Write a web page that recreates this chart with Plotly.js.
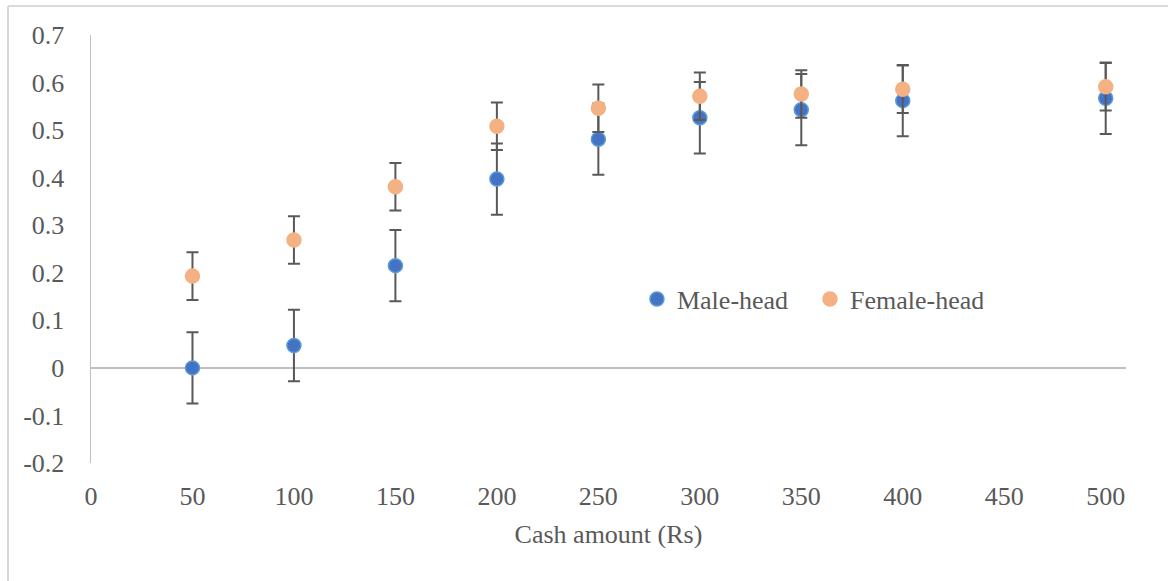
<!DOCTYPE html>
<html>
<head>
<meta charset="utf-8">
<script src="https://cdn.plot.ly/plotly-3.0.1.min.js"></script>
<style>html,body{margin:0;padding:0;background:#fff;}#chart{width:1168px;height:581px;}</style>
</head>
<body>
<div id="chart"></div>
<script>
var cashAmounts = [50, 100, 150, 200, 250, 300, 350, 400, 500];
var maleHead = [0.0, 0.047, 0.215, 0.397, 0.481, 0.526, 0.543, 0.562, 0.567];
var maleErr = [0.075, 0.075, 0.075, 0.075, 0.075, 0.075, 0.075, 0.075, 0.075];
var femaleHead = [0.193, 0.269, 0.381, 0.508, 0.546, 0.571, 0.576, 0.586, 0.591];
var femaleErr = [0.05, 0.05, 0.05, 0.05, 0.05, 0.05, 0.05, 0.05, 0.05];
var xTicks = [0, 50, 100, 150, 200, 250, 300, 350, 400, 450, 500];
var yTicks = [-0.2, -0.1, 0, 0.1, 0.2, 0.3, 0.4, 0.5, 0.6, 0.7];
var yTickText = ['-0.2', '-0.1', '0', '0.1', '0.2', '0.3', '0.4', '0.5', '0.6', '0.7'];

var fontFam = 'Liberation Serif';
var fs = 26;
var errStyle = {type: 'data', visible: true, color: '#595959', thickness: 2, width: 6};

var traces = [
  {
    x: cashAmounts, y: maleHead, name: 'Male-head', type: 'scatter', mode: 'markers',
    marker: {color: '#4472C4', size: 14, line: {color: '#5B9BD5', width: 1.5}},
    error_y: Object.assign({array: maleErr}, errStyle)
  },
  {
    x: cashAmounts, y: femaleHead, name: 'Female-head', type: 'scatter', mode: 'markers',
    marker: {color: '#F4B183', size: 14, line: {color: '#F4B183', width: 1.5}},
    error_y: Object.assign({array: femaleErr}, errStyle)
  }
];

var layout = {
  width: 1168, height: 581,
  margin: {l: 91, r: 42, t: 35, b: 118},
  paper_bgcolor: '#ffffff', plot_bgcolor: '#ffffff',
  font: {family: fontFam, size: fs, color: '#595959'},
  showlegend: true,
  legend: {
    orientation: 'h', x: 0.5275, y: 0.383, xanchor: 'left', yanchor: 'middle',
    bgcolor: 'rgba(0,0,0,0)', font: {family: fontFam, size: fs, color: '#595959'},
    itemwidth: 30, entrywidth: 128
  },
  xaxis: {
    range: [0, 510], tickvals: xTicks, ticktext: xTicks.map(String),
    showgrid: false, zeroline: false, showline: false, ticks: '',
    ticklabelstandoff: 15,
    tickfont: {family: fontFam, size: fs, color: '#595959'},
    title: {text: 'Cash amount (Rs)', standoff: 14, font: {family: fontFam, size: fs, color: '#595959'}},
    fixedrange: true
  },
  yaxis: {
    range: [-0.2, 0.7], tickvals: yTicks, ticktext: yTickText,
    showgrid: false, zeroline: true, zerolinecolor: '#C0C0C0', zerolinewidth: 1.5,
    showline: true, linecolor: '#C0C0C0', linewidth: 1.5, ticks: '',
    ticklabelstandoff: 20,
    tickfont: {family: fontFam, size: fs, color: '#595959'},
    fixedrange: true
  },
  shapes: [
    {type: 'line', xref: 'paper', yref: 'paper', x0: -0.0802, x1: 1.05, y0: 1.0678, y1: 1.0678,
     line: {color: '#D9D9D9', width: 2}},
    {type: 'line', xref: 'paper', yref: 'paper', x0: -0.0802, x1: -0.0802, y0: 1.0678, y1: -0.3,
     line: {color: '#D9D9D9', width: 2}}
  ]
};

Plotly.newPlot('chart', traces, layout, {displayModeBar: false, staticPlot: true});
</script>
</body>
</html>
